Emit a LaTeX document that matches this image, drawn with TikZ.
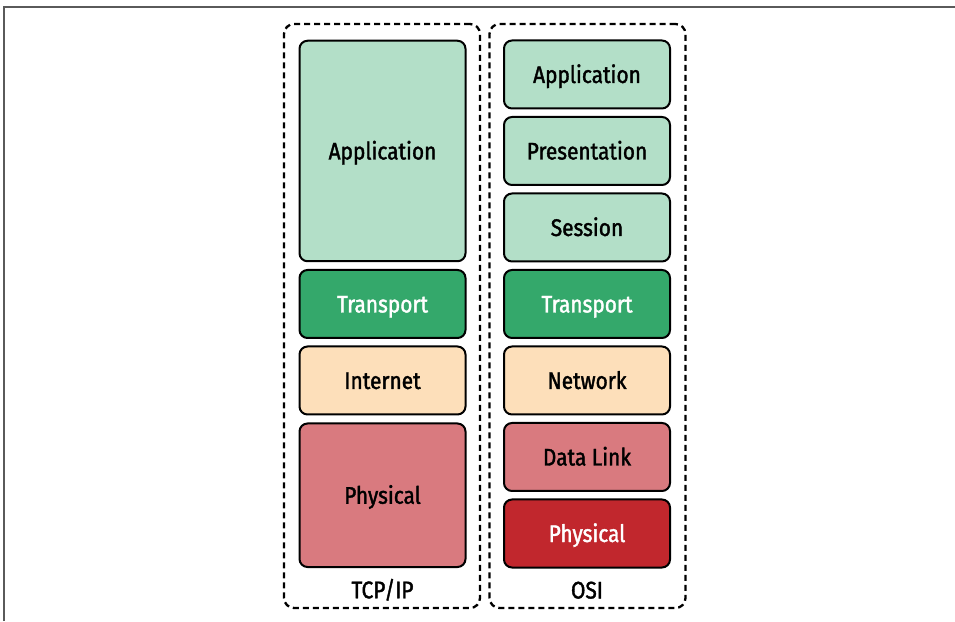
\documentclass[tikz,border=0pt]{standalone}
\usepackage{fontspec}
\setmainfont{Fira Sans}[FakeStretch=0.87, FakeBold=1.6]
\definecolor{mint}{RGB}{179,223,200}
\definecolor{jade}{RGB}{52,168,107}
\definecolor{peach}{RGB}{253,223,186}
\definecolor{rose}{RGB}{217,122,127}
\definecolor{crimson}{RGB}{193,39,45}
\definecolor{framegray}{RGB}{90,90,90}
\tikzstyle{layerstyle} = [rectangle, 
minimum width=166pt, 
minimum height=68pt,
text centered,
text height=17pt,
text depth=0pt,
draw=black,
line width=2pt,
rounded corners=8pt, 
font=\fontsize{24}{28}\selectfont]
\tikzstyle{tallstyle} = [layerstyle, 
minimum height=220.5pt]
\tikzstyle{physstyle} = [layerstyle, 
minimum height=143.5pt]
\tikzstyle{borderstyle} = [rectangle, 
minimum width=196pt, 
minimum height=584pt,
draw=black,
dash pattern=on 6pt off 4pt,
line width=2.3pt,
rounded corners=10pt]
\tikzstyle{stackname} = [text height=17pt, 
text depth=0pt,
font=\fontsize{24}{28}\selectfont]

\begin{document}
\begin{tikzpicture}[x=1pt, y=1pt, node distance=76.5pt]
\useasboundingbox (0,0) rectangle (955,621);
\draw [framegray, line width=1.2pt] (4,0) -- (4,614) -- (955,614);

\node (osiapp) [layerstyle, fill=mint] at (587,546.5) {Application};

\node (osipres) [layerstyle, fill=mint, below of=osiapp] {Presentation};

\node (osisession) [layerstyle, fill=mint, below of=osipres] {Session};

\node (ositransport) [layerstyle, fill=jade, text=white, below of=osisession] {Transport};

\node (osinetwork) [layerstyle, fill=peach, below of=ositransport] {Network};

\node (osilink) [layerstyle, fill=rose, below of=osinetwork] {Data Link};

\node (osiphys) [layerstyle, fill=crimson, text=white, below of=osilink] {Physical};

\node (tcpapp) [tallstyle, fill=mint, left of=osipres, xshift=-128pt] {Application};

\node (tcptransport) [layerstyle, fill=jade, text=white, left of=ositransport, xshift=-128pt] {Transport};

\node (tcpinternet) [layerstyle, fill=peach, left of=osinetwork, xshift=-128pt] {Internet};

\node (tcpphys) [physstyle, fill=rose, left of=osilink, xshift=-128pt, yshift=-38.25pt] {Physical};

\node (tcpname) [stackname, below of=tcpphys, yshift=-18pt] {TCP/IP};

\node (osiname) [stackname, below of=osiphys, yshift=20pt] {OSI};

\node (tcpborder) [borderstyle, below of=tcpapp, yshift=-88.5pt, xshift=-0.5pt] {};

\node (osiborder) [borderstyle, below of=osiapp, yshift=-165pt, xshift=0.5pt] {};
\end{tikzpicture}
\end{document}
